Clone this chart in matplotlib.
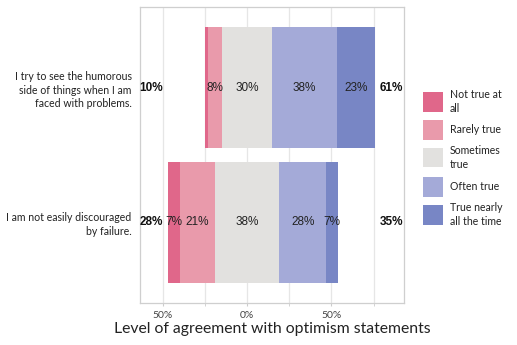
import matplotlib
matplotlib.use("Agg")
import matplotlib.pyplot as plt
from matplotlib.patches import Rectangle
import numpy as np

statements = ["I try to see the humorous\nside of things when I am\nfaced with problems.",
              "I am not easily discouraged\nby failure."]
categories = ["Not true at\nall", "Rarely true", "Sometimes\ntrue", "Often true", "True nearly\nall the time"]
not_true = [2, 7]
rarely = [8, 21]
sometimes = [30, 38]
often = [38, 28]
nearly = [23, 7]
low_total = [10, 28]
high_total = [61, 35]
show_label = [[False, True, True, True, True], [True, True, True, True, True]]
colors = ["#E0678A", "#E99AAB", "#E2E1DF", "#A4AAD8", "#7886C5"]

fig = plt.figure(figsize=(5.17, 3.45), dpi=100)
ax = fig.add_axes([140/517, 1 - 303/345, 264/517, 296/345])

data = np.array([not_true, rarely, sometimes, often, nearly], dtype=float).T
y = np.arange(len(statements))
for i in range(len(statements)):
    row = data[i]
    start = -row[0] - row[1] - row[2] / 2
    for j in range(5):
        ax.barh(y[i], row[j], left=start, height=0.9, color=colors[j], edgecolor='none', zorder=2)
        if show_label[i][j]:
            ax.text(start + row[j] / 2, y[i], f"{int(row[j])}%", ha='center', va='center',
                    fontsize=8.5, family='Liberation Sans', color='#222222', zorder=3)
        start += row[j]
    ax.text(-56.8, y[i], f"{low_total[i]}%", ha='center', va='center', fontsize=8.5,
            fontweight='bold', family='Liberation Sans', color='#111111', zorder=3)
    ax.text(85.5, y[i], f"{high_total[i]}%", ha='center', va='center', fontsize=8.5,
            fontweight='bold', family='Liberation Sans', color='#111111', zorder=3)

ax.set_xlim(-63.5, 93)
ax.set_ylim(1.6, -0.6)
ax.set_yticks(y)
ax.set_yticklabels(statements, fontsize=7.6, family='Lato', color='#222222', ha='right',
                   linespacing=1.3)
ax.tick_params(axis='y', length=0, pad=6)
ax.set_xticks([-50, 0, 50])
ax.set_xticklabels(["50%", "0%", "50%"], fontsize=7.5, family='Lato', color='#444444')
ax.set_xticks([-25, 25, 75], minor=True)
ax.tick_params(axis='x', which='both', length=2.5, color='#cccccc', pad=3)
ax.grid(axis='x', which='both', color='#e6e6e6', linewidth=0.9, zorder=0)
ax.set_axisbelow(True)
for s in ax.spines.values():
    s.set_color('#cfcfcf')
    s.set_linewidth(0.9)
ax.set_xlabel("Level of agreement with optimism statements", fontsize=11.3,
              family='Lato', color='#222222', labelpad=2)

# legend
box_tops = [92, 120, 148, 177, 205]
for k, (lab, c) in enumerate(zip(categories, colors)):
    top = box_tops[k]
    fig.add_artist(Rectangle((423/517, 1 - (top + 19.5)/345), 20/517, 19.5/345,
                             transform=fig.transFigure, facecolor=c, edgecolor='none'))
    fig.text(450/517, 1 - (top + 9.75)/345, lab, ha='left', va='center', fontsize=7.6,
             family='Lato', color='#222222', linespacing=1.3)

fig.savefig("out.png", dpi=100)
